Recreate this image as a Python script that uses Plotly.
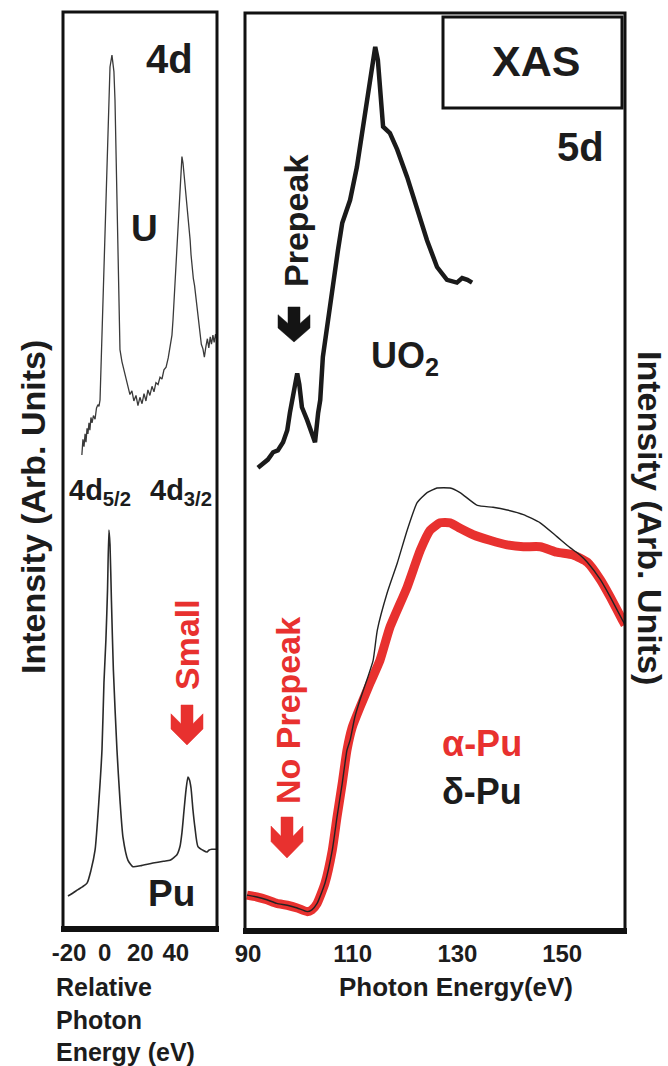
import plotly.graph_objects as go

# ---------------- data ----------------
# Left panel: 4d XAS, relative photon energy (eV) vs intensity (arb.)
u_energy = [-12.8, -12.2, -11.6, -11.0, -10.5, -9.9, -9.4, -8.8, -8.3, -7.7, -7.1, -6.3, -5.4, -4.6,
            -3.8, -3.2, -2.6, -1.5, -0.4, 0.7, 1.9, 3.0, 4.1, 5.2, 5.8, 6.9, 8.6, 9.7, 11.4, 13.1,
            14.2, 15.3, 16.4, 17.6, 18.7, 19.8, 21.0, 22.1, 23.2, 24.3, 25.4, 26.6, 27.7, 28.8, 30.0,
            31.1, 32.2, 33.3, 34.5, 35.7, 36.5, 37.2, 37.8, 38.4, 39.0, 39.5, 40.1, 40.6, 41.2, 41.7,
            42.3, 42.9, 43.4, 44.0, 44.6, 45.1, 45.7, 46.2, 46.8, 47.4, 48.0, 48.5, 49.0, 49.8, 50.5,
            51.2, 51.9, 52.7, 53.5, 54.3, 55.2, 56.0, 56.9, 57.7, 58.5, 59.3, 60.0, 60.8, 61.5, 62.3, 63.1]
u_intensity = [51.7, 53.4, 52.6, 54.0, 53.1, 54.6, 54.0, 55.2, 54.4, 55.8, 55.2, 56.0, 55.6, 56.8,
               57.2, 57.0, 57.7, 65.0, 72.2, 79.6, 86.9, 94.1, 95.4, 93.6, 90.5, 79.6, 63.2, 61.9, 60.4, 59.1,
               58.3, 58.7, 57.6, 58.2, 57.1, 58.0, 57.3, 58.4, 57.6, 58.8, 58.2, 59.2, 58.6, 59.6, 59.4,
               60.2, 60.0, 61.0, 61.3, 62.3, 63.4, 63.9, 64.8, 66.5, 68.6, 70.5, 72.8, 75.0, 77.4, 79.6,
               81.6, 83.3, 84.3, 83.6, 82.4, 81.3, 80.3, 79.2, 77.8, 76.6, 75.2, 73.6, 72.4, 71.0, 70.2,
               69.0, 68.4, 66.5, 65.2, 63.8, 63.3, 62.4, 63.6, 64.4, 63.4, 64.6, 63.8, 64.8, 64.0, 64.9, 64.2]

pu_energy = [-20.6, -18.0, -15.0, -12.5, -9.9, -7.7, -5.4, -3.2, -1.5, -0.4, 0.7, 1.6, 2.4, 3.0, 3.8,
             4.9, 6.9, 8.6, 10.3, 13.1, 15.9, 20.0, 27.1, 33.0, 36.7, 38.9, 40.6, 42.3, 43.4, 44.5,
             45.7, 46.8, 47.6, 48.5, 49.6, 50.7, 52.4, 55.2, 57.5, 58.5, 60.2, 63.1]
pu_intensity = [3.5, 3.8, 4.2, 4.5, 4.9, 6.3, 8.5, 14.0, 19.5, 26.8, 31.5, 36.9, 43.5, 41.9, 35.8,
                28.2, 19.5, 14.0, 9.9, 7.4, 6.7, 6.8, 7.1, 7.3, 7.4, 7.7, 8.0, 8.9, 10.4, 12.7,
                15.1, 16.5, 16.2, 15.3, 12.9, 11.0, 8.9, 8.5, 8.3, 8.5, 8.6, 8.6]

# Right panel: 5d XAS, photon energy (eV) vs intensity (arb.)
uo2_energy = [91.9, 92.9, 93.8, 94.8, 95.7, 96.7, 97.5, 98.0, 98.6, 99.0, 99.4, 99.8, 100.3, 101.3,
              102.0, 102.4, 102.8, 103.4, 103.8, 104.3, 105.3, 106.2, 107.2, 108.0, 108.9, 109.5,
              110.8, 111.8, 112.7, 113.7, 114.3, 114.8, 115.2, 115.8, 117.1, 118.5, 120.4, 122.3,
              124.2, 126.1, 128.0, 129.9, 130.9, 131.9, 132.8]
uo2_intensity = [50.4, 50.9, 51.3, 52.1, 52.3, 53.2, 54.5, 56.4, 58.3, 58.9, 60.7, 59.5, 57.0, 55.6,
                 54.5, 53.8, 53.2, 56.4, 57.8, 62.5, 66.8, 70.6, 74.2, 77.1, 78.8, 79.6,
                 83.2, 86.9, 90.5, 93.6, 96.3, 94.9, 92.4, 87.6, 86.9, 85.1, 82.1, 78.8,
                 75.2, 72.3, 70.9, 70.6, 71.1, 70.9, 70.6]

apu_energy = [89.8, 91.7, 93.6, 95.5, 97.5, 99.4, 101.3, 102.2, 103.2, 104.7, 106.1, 107.0, 108.0,
              108.9, 109.9, 111.4, 113.3, 115.2, 117.1, 120.4, 122.9, 124.8, 126.7, 128.6, 130.5,
              133.0, 136.2, 139.5, 142.6, 145.8, 149.0, 152.1, 154.8, 157.3, 159.2, 161.5, 162.0]
apu_intensity = [3.8, 3.6, 3.3, 2.9, 2.7, 2.4, 2.0, 2.2, 2.9, 5.1, 8.7, 12.3, 16.0,
                 19.6, 22.1, 24.3, 26.9, 29.4, 33.0, 37.4, 41.4, 43.6, 44.4, 44.4, 43.8,
                 43.1, 42.5, 42.0, 41.8, 41.8, 41.2, 40.9, 40.1, 38.2, 36.3, 33.8, 33.3]

dpu_energy = [89.8, 91.7, 93.6, 95.5, 97.5, 99.4, 101.3, 102.2, 103.2, 104.7, 106.1, 107.0, 108.0,
              108.9, 109.5, 110.4, 111.4, 112.9, 113.9, 114.7, 116.6, 118.5, 120.4, 122.3, 124.2,
              126.1, 128.6, 130.5, 133.8, 136.8, 139.5, 142.6, 145.8, 149.0, 151.5, 153.4, 154.8,
              157.3, 159.2, 161.5, 162.0]
dpu_intensity = [3.8, 3.6, 3.3, 2.9, 2.7, 2.4, 2.0, 2.2, 2.9, 5.1, 8.7, 12.3, 16.0,
                 19.6, 20.7, 23.2, 25.1, 27.6, 29.4, 32.7, 36.8, 40.0, 43.6, 46.6, 47.7,
                 48.2, 48.2, 47.7, 46.3, 46.1, 45.8, 45.3, 44.4, 42.9, 41.7, 40.9, 40.1,
                 38.2, 36.3, 33.8, 33.3]

left_ticks = [-20, 0, 20, 40]
right_ticks = [90, 110, 130, 150]

# ---------------- layout helpers ----------------
W, H = 668, 1066
FONT = "Liberation Sans, Arial, sans-serif"
TXT = "#1c1c1c"
RED = "#e8312f"


def px(x):
    return x / W


def py(y):
    return 1 - y / H


fig = go.Figure()

fig.add_trace(go.Scatter(x=u_energy, y=u_intensity, mode="lines", xaxis="x", yaxis="y",
                         line=dict(color="#3a3a3a", width=1.3), showlegend=False))
fig.add_trace(go.Scatter(x=pu_energy, y=pu_intensity, mode="lines", xaxis="x", yaxis="y",
                         line=dict(color="#2a2a2a", width=1.6, shape="spline", smoothing=0.6),
                         showlegend=False))
fig.add_trace(go.Scatter(x=uo2_energy, y=uo2_intensity, mode="lines", xaxis="x2", yaxis="y2",
                         line=dict(color="#1a1a1a", width=4.5), showlegend=False))
fig.add_trace(go.Scatter(x=apu_energy, y=apu_intensity, mode="lines", xaxis="x2", yaxis="y2",
                         line=dict(color=RED, width=9, shape="spline", smoothing=0.5),
                         showlegend=False))
fig.add_trace(go.Scatter(x=dpu_energy, y=dpu_intensity, mode="lines", xaxis="x2", yaxis="y2",
                         line=dict(color="#222222", width=1.4, shape="spline", smoothing=0.5),
                         showlegend=False))

tickfont_l = dict(family=FONT, size=24, color=TXT, weight="bold")
tickfont_r = dict(family=FONT, size=24, color=TXT, weight="bold")

fig.update_layout(
    template="none",
    width=W, height=H, autosize=False,
    margin=dict(l=0, r=0, t=0, b=0, pad=0),
    paper_bgcolor="white", plot_bgcolor="white",
    xaxis=dict(domain=[px(63), px(217)], range=[-23.4, 63.1], tickvals=left_ticks,
               ticktext=[str(v) for v in left_ticks], automargin=False,
               ticks="outside", ticklen=3, tickcolor="rgba(0,0,0,0)",
               showline=False, showgrid=False, zeroline=False, tickfont=tickfont_l),
    yaxis=dict(domain=[py(928), py(13)], range=[0, 100], visible=False, automargin=False),
    xaxis2=dict(domain=[px(245), px(625)], range=[89.43, 162.0], tickvals=right_ticks,
                ticktext=[str(v) for v in right_ticks], automargin=False,
                ticks="outside", ticklen=2, tickcolor="rgba(0,0,0,0)", anchor="y2",
                showline=False, showgrid=False, zeroline=False, tickfont=tickfont_r),
    yaxis2=dict(domain=[py(930), py(13)], range=[0, 100], visible=False, anchor="x2",
                automargin=False),
)

# ---------------- frames ----------------
shapes = []


def rect(x0, y0, x1, y1, w=3):
    shapes.append(dict(type="rect", xref="paper", yref="paper", x0=px(x0), x1=px(x1),
                       y0=py(y1), y1=py(y0), line=dict(color="#111111", width=w),
                       fillcolor="rgba(0,0,0,0)", layer="above"))


def hline(x0, x1, y, w):
    shapes.append(dict(type="line", xref="paper", yref="paper", x0=px(x0), x1=px(x1),
                       y0=py(y), y1=py(y), line=dict(color="#111111", width=w), layer="above"))


def arrow(cx, top, bottom, color, hw=16, sh=6):
    h = bottom - top
    pts = [(cx - sh, top), (cx + sh, top), (cx + sh, top + 0.47 * h), (cx + hw, top + 0.22 * h),
           (cx + hw, top + 0.6 * h), (cx, bottom), (cx - hw, top + 0.6 * h),
           (cx - hw, top + 0.22 * h), (cx - sh, top + 0.47 * h)]
    path = "M " + " L ".join(f"{px(a):.5f},{py(b):.5f}" for a, b in pts) + " Z"
    shapes.append(dict(type="path", xref="paper", yref="paper", path=path,
                       fillcolor=color, line=dict(color=color, width=0.5), layer="above"))


rect(63, 12, 217, 928)
hline(61, 219, 929, 6)
rect(245, 13, 625, 930)
hline(243, 627, 931, 6)
rect(443, 17, 622, 108)
arrow(294, 307, 342, "#141414")
arrow(187, 705, 745, RED)
arrow(287, 817, 858, RED)
fig.update_layout(shapes=shapes)

# ---------------- text ----------------
ann = []


def label(text, x, y, size, color=TXT, angle=0, bold=True, xanchor="center", align="center"):
    ann.append(dict(text=text, x=px(x), y=py(y), xref="paper", yref="paper", showarrow=False,
                    xanchor=xanchor, yanchor="middle", textangle=angle, align=align,
                    font=dict(family=FONT, size=size, color=color,
                              weight="bold" if bold else "normal")))


label("4d", 169, 59, 40)
label("U", 144, 228, 37)
label("4d<sub>5/2</sub>", 100, 492, 29)
label("4d<sub>3/2</sub>", 181, 492, 29)
label("Pu", 171, 893, 37)
label("Small", 187, 645, 34, color=RED, angle=-90)
label("XAS", 536, 61, 43)
label("5d", 580, 147, 40)
label("Prepeak", 296, 221, 34, angle=-90)
label("UO<sub>2</sub>", 405, 358, 36)
label("No Prepeak", 288, 711, 34, color=RED, angle=-90)
label("α-Pu", 482, 743, 36, color=RED)
label("δ-Pu", 482, 791, 36)
label("Intensity (Arb. Units)", 33, 507, 34, angle=-90)
label("Intensity (Arb. Units)", 650, 518, 34, angle=90)
label("Photon Energy(eV)", 456, 987, 26)
label("Relative<br>Photon<br>Energy (eV)", 54, 1019, 25, xanchor="left", align="left")
fig.update_layout(annotations=ann)

fig.write_html("out.html")
